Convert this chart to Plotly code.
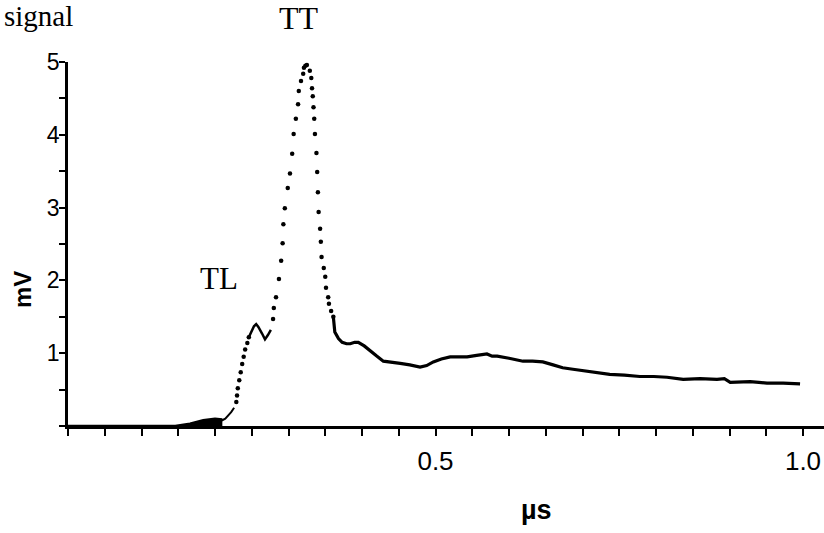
import plotly.graph_objects as go

# ---- data (µs, mV) ----
baseline_x = [0.0, 0.10, 0.146, 0.166, 0.184, 0.200, 0.210]
baseline_y = [0.0, 0.0, 0.0, 0.03, 0.08, 0.10, 0.09]

onset_x = [0.200, 0.210, 0.214, 0.218, 0.222, 0.226]
onset_y = [0.06, 0.08, 0.10, 0.14, 0.19, 0.25]

rise_x = [0.229, 0.230, 0.231, 0.233, 0.235, 0.237, 0.239, 0.241, 0.244, 0.246]
rise_y = [0.33, 0.42, 0.52, 0.63, 0.74, 0.85, 0.95, 1.05, 1.14, 1.22]

tl_x = [0.246, 0.250, 0.253, 0.256, 0.259, 0.264, 0.268, 0.272, 0.276]
tl_y = [1.22, 1.31, 1.37, 1.40, 1.36, 1.27, 1.19, 1.25, 1.32]

peak_x = [0.279, 0.280, 0.283, 0.287, 0.290, 0.292, 0.293, 0.295, 0.299, 0.302,
          0.305, 0.307, 0.310, 0.313, 0.314, 0.317, 0.320, 0.321, 0.323, 0.325,
          0.329, 0.331, 0.332, 0.333, 0.334, 0.335, 0.336, 0.338, 0.339, 0.340,
          0.341, 0.343, 0.344, 0.345, 0.348, 0.350, 0.351, 0.354, 0.355, 0.358,
          0.361]
peak_y = [1.47, 1.62, 1.77, 2.02, 2.27, 2.51, 2.77, 2.99, 3.27, 3.47,
          3.74, 4.01, 4.22, 4.42, 4.60, 4.74, 4.84, 4.92, 4.95, 4.96,
          4.88, 4.78, 4.64, 4.53, 4.38, 4.22, 4.01, 3.75, 3.49, 3.21,
          2.94, 2.71, 2.53, 2.32, 2.17, 2.05, 1.90, 1.77, 1.68, 1.58,
          1.50]

tail_x = [0.361, 0.363, 0.368, 0.373, 0.379, 0.384, 0.390, 0.395, 0.403, 0.411,
          0.420, 0.429, 0.440, 0.452, 0.465, 0.479, 0.488, 0.497, 0.508, 0.520,
          0.532, 0.543, 0.556, 0.570, 0.577, 0.584, 0.600, 0.619, 0.632, 0.646,
          0.660, 0.673, 0.687, 0.701, 0.718, 0.737, 0.757, 0.778, 0.797, 0.815,
          0.837, 0.860, 0.883, 0.893, 0.901, 0.915, 0.928, 0.940, 0.951, 0.973,
          0.996]
tail_y = [1.50, 1.29, 1.20, 1.15, 1.13, 1.13, 1.15, 1.15, 1.10, 1.04,
          0.96, 0.89, 0.88, 0.86, 0.84, 0.81, 0.83, 0.88, 0.92, 0.95,
          0.95, 0.95, 0.97, 0.99, 0.96, 0.96, 0.93, 0.89, 0.89, 0.88,
          0.84, 0.80, 0.78, 0.76, 0.74, 0.71, 0.70, 0.68, 0.68, 0.67,
          0.64, 0.65, 0.64, 0.65, 0.60, 0.61, 0.61, 0.60, 0.59, 0.59,
          0.58]

x_tick_vals = [round(0.05 * i, 2) for i in range(0, 21)]
x_tick_text = ["0.5" if abs(v - 0.5) < 1e-9 else ("1.0" if abs(v - 1.0) < 1e-9 else "") for v in x_tick_vals]
y_tick_vals = [0.5 * i for i in range(0, 11)]
y_tick_text = [str(int(v)) if (v > 0 and v == int(v)) else "" for v in y_tick_vals]

fig = go.Figure()
fig.add_trace(go.Scatter(x=baseline_x, y=baseline_y, mode="lines", fill="tozeroy",
                         fillcolor="black", line=dict(color="black", width=2.5),
                         hoverinfo="skip", showlegend=False))
fig.add_trace(go.Scatter(x=onset_x, y=onset_y, mode="lines",
                         line=dict(color="black", width=2), showlegend=False))
fig.add_trace(go.Scatter(x=rise_x, y=rise_y, mode="markers",
                         marker=dict(color="black", size=4.5), showlegend=False))
fig.add_trace(go.Scatter(x=tl_x, y=tl_y, mode="lines",
                         line=dict(color="black", width=2.5), showlegend=False))
fig.add_trace(go.Scatter(x=peak_x, y=peak_y, mode="markers",
                         marker=dict(color="black", size=4.5), showlegend=False,
                         cliponaxis=False))
fig.add_trace(go.Scatter(x=tail_x, y=tail_y, mode="lines",
                         line=dict(color="black", width=3.2), showlegend=False))

W, H = 824, 533
L, T, R = 68, 62, 0
B = H - 426
pw, ph = W - L - R, H - T - B


def px(xp):
    return (xp - L) / pw


def py(yp):
    return (H - B - yp) / ph


axis_font = dict(family="Liberation Sans, Arial, sans-serif", color="black")
serif = dict(family="Liberation Serif, Times New Roman, serif", color="black")

fig.update_layout(
    width=W, height=H,
    margin=dict(l=L, r=R, t=T, b=B, pad=0),
    paper_bgcolor="white", plot_bgcolor="white",
    xaxis=dict(range=[0, pw / 735.0], showgrid=False, zeroline=False,
               showline=True, linecolor="black", linewidth=2.5,
               ticks="outside", ticklen=7, tickwidth=2, tickcolor="black",
               tickmode="array", tickvals=x_tick_vals, ticktext=x_tick_text,
               ticklabelstandoff=3,
               tickfont=dict(size=26, **axis_font)),
    yaxis=dict(range=[0, 5], showgrid=False, zeroline=False,
               showline=True, linecolor="black", linewidth=2.5,
               ticks="outside", ticklen=6, tickwidth=2, tickcolor="black",
               tickmode="array", tickvals=y_tick_vals, ticktext=y_tick_text,
               ticklabelstandoff=-5,
               tickfont=dict(size=23, **axis_font)),
    annotations=[
        dict(text="<b>mV</b>", xref="paper", yref="paper", x=px(22), y=py(290),
             showarrow=False, textangle=-90, font=dict(size=24, **axis_font),
             xanchor="center", yanchor="middle"),
        dict(text="<b>µs</b>", xref="paper", yref="paper", x=px(536), y=py(510),
             showarrow=False, font=dict(size=27, **axis_font),
             xanchor="center", yanchor="middle"),
        dict(text="TL", xref="paper", yref="paper", x=px(219), y=py(278),
             showarrow=False, font=dict(size=31, **serif),
             xanchor="center", yanchor="middle"),
        dict(text="TT", xref="paper", yref="paper", x=px(299), y=py(18),
             showarrow=False, font=dict(size=32, **serif),
             xanchor="center", yanchor="middle"),
        dict(text="signal", xref="paper", yref="paper", x=px(75), y=py(16),
             showarrow=False, font=dict(size=29, **serif),
             xanchor="right", yanchor="middle"),
    ],
)

fig.write_html("out.html",
               config={"displayModeBar": False},
               post_script="document.body.style.margin='0px';document.body.style.overflow='hidden';")
